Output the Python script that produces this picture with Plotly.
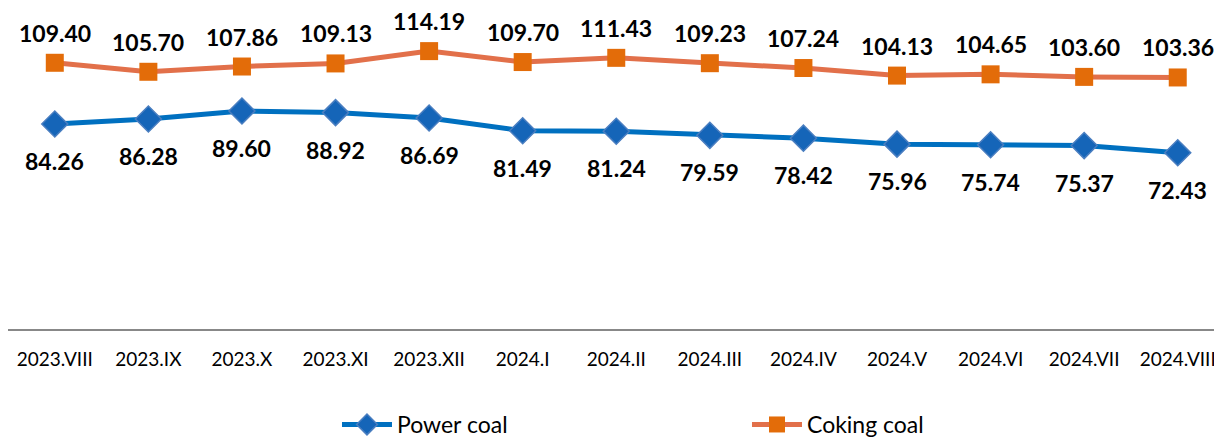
import plotly.graph_objects as go

categories = ["2023.VIII", "2023.IX", "2023.X", "2023.XI", "2023.XII", "2024.I", "2024.II",
              "2024.III", "2024.IV", "2024.V", "2024.VI", "2024.VII", "2024.VIII"]
power_coal = [84.26, 86.28, 89.60, 88.92, 86.69, 81.49, 81.24, 79.59, 78.42, 75.96, 75.74, 75.37, 72.43]
coking_coal = [109.40, 105.70, 107.86, 109.13, 114.19, 109.70, 111.43, 109.23, 107.24, 104.13, 104.65, 103.60, 103.36]

FONT = "Lato, 'Open Sans', sans-serif"

fig = go.Figure()
fig.add_trace(go.Scatter(
    x=categories, y=power_coal, name="Power coal", mode="lines+markers",
    line=dict(color="#0070C0", width=5),
    marker=dict(symbol="diamond", size=20, color="#1565B8", line=dict(color="#4A7EC0", width=1.5)),
))
fig.add_trace(go.Scatter(
    x=categories, y=coking_coal, name="Coking coal", mode="lines+markers",
    line=dict(color="#E2704A", width=5),
    marker=dict(symbol="square", size=18, color="#E36C09", line=dict(width=0)),
))

for c, v in zip(categories, coking_coal):
    fig.add_annotation(x=c, y=v, text=f"{v:.2f}", showarrow=False, yshift=30,
                       font=dict(family=FONT, size=23, color="#000000", weight="bold"))
for c, v in zip(categories, power_coal):
    fig.add_annotation(x=c, y=v, text=f"{v:.2f}", showarrow=False, yshift=-37,
                       font=dict(family=FONT, size=23, color="#000000", weight="bold"))

fig.update_layout(
    width=1214, height=430,
    margin=dict(l=0, r=0, t=10, b=109, autoexpand=False),
    plot_bgcolor="white", paper_bgcolor="white",
    font=dict(family=FONT, size=19, color="#000000"),
    showlegend=True,
    legend=dict(orientation="h", x=0.271, xanchor="left", y=-0.238, yanchor="top",
                font=dict(family=FONT, size=23, color="#000000"),
                entrywidth=345, itemwidth=50),
    xaxis=dict(showline=True, linecolor="#888888", linewidth=2, showgrid=False,
               ticks="", ticklabelstandoff=12, tickfont=dict(family=FONT, size=19),
               automargin=False, range=[-0.5, 12.473]),
    yaxis=dict(range=[0, 127.8], visible=False, showgrid=False, automargin=False),
)

fig.write_html("out.html")
